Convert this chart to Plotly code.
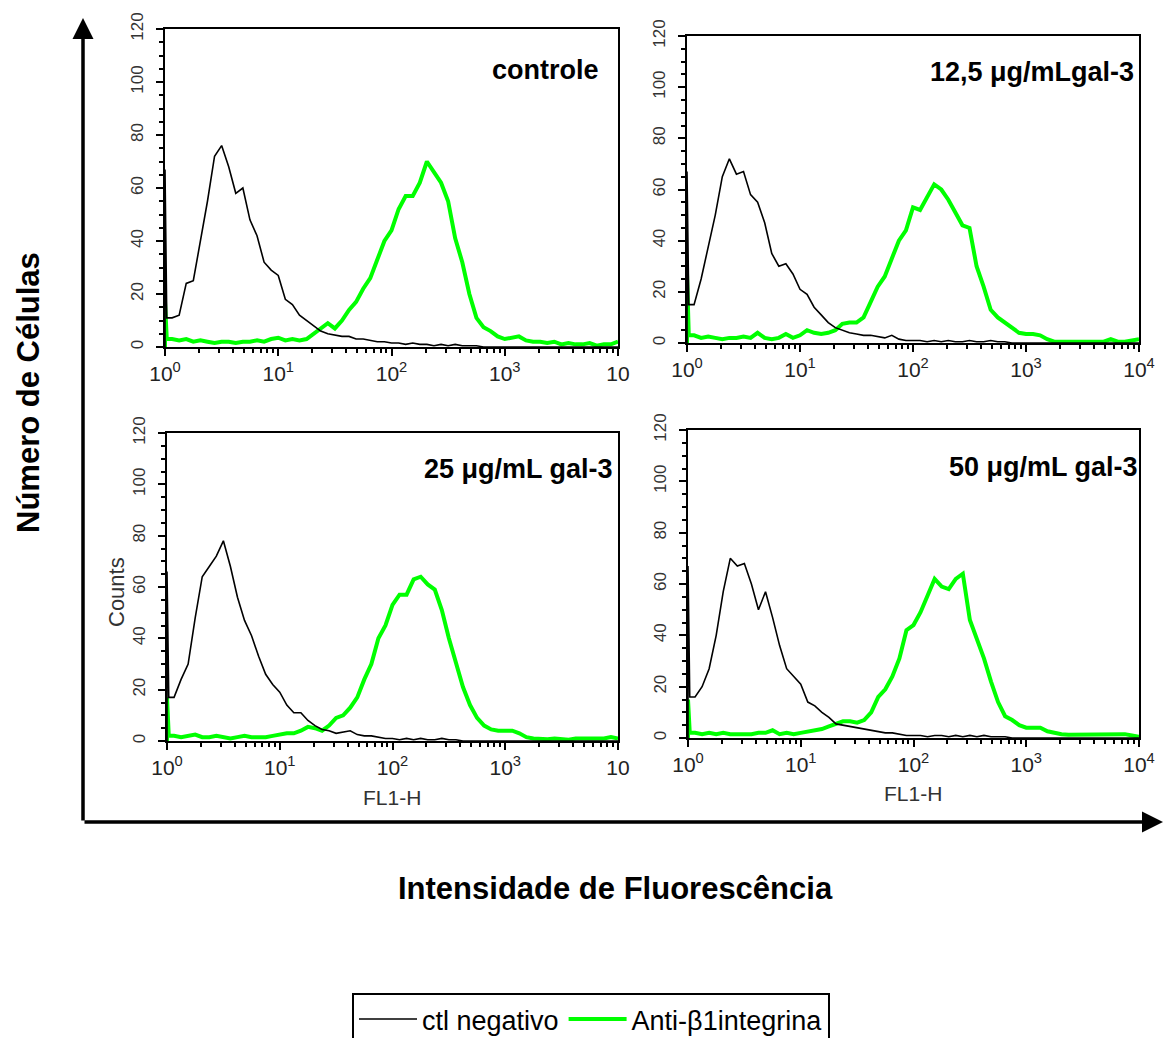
import plotly.graph_objects as go

W, H = 1164, 1038

# ---------------- data (counts) ----------------
# FL1-H channel scale: 16 channels per decade from 10^0 to 10^4 (65 positions)
channels_per_decade = 16
n_channels = 65
fl1_channels = [10 ** (i / channels_per_decade) for i in range(n_channels)]
first_channel_edge = 10 ** (1 / 64)   # width of the first (pile-up) channel

panel_titles = ["controle", "12,5 μg/mLgal-3", "25 μg/mL gal-3", "50 μg/mL gal-3"]
series_names = ["ctl negativo", "Anti-β1integrina"]

x_tick_values = [1, 10, 100, 1000, 10000]
x_tick_labels = ["10<sup>0</sup>", "10<sup>1</sup>", "10<sup>2</sup>", "10<sup>3</sup>", "10<sup>4</sup>"]
x_tick_labels_clipped = ["10<sup>0</sup>", "10<sup>1</sup>", "10<sup>2</sup>", "10<sup>3</sup>", "10"]
y_tick_values = [0, 20, 40, 60, 80, 100, 120]

ctl_controle = [67, 11, 12, 24, 25, 40, 55, 72, 76, 68, 58, 60, 48, 42, 32, 29, 27,
                18, 16, 12, 10, 8, 6, 5, 4.5, 4, 4, 3, 3, 2.5, 2, 2, 1.5, 1.5, 1, 1.5,
                1, 1, 0.5, 1, 0.5, 1, 0.5, 0.5, 0.5, 0,
                0, 0, 0, 0, 0, 0, 0, 0, 0, 0, 0, 0, 0, 0, 0, 0, 0, 0, 0]
anti_controle = [17, 3, 2.5, 3, 2, 2.5, 2, 1.5, 2, 2, 1.5, 2, 2, 2.5, 2, 3, 3.5, 2.5, 3, 2.5, 3,
                 5, 7, 9, 7, 10, 14, 17, 22, 26, 33, 40, 44, 52, 57, 57, 62, 70, 66, 62, 55,
                 41, 32, 20, 11, 7.5, 6, 4, 3, 3.5, 4, 2.5, 2, 2, 1.5, 2, 1, 1.5, 1, 1, 1.5,
                 0.5, 1, 1, 2]

ctl_125 = [67, 15, 25, 38, 50, 65, 72, 66, 67, 58, 55, 47, 35, 30, 31, 27, 21,
           19, 14, 11, 8, 6, 5, 4, 3.5, 3, 3, 2.5, 2, 3, 1.5, 1, 1, 1, 0.5, 1,
           0.5, 1, 0.5, 0.5, 1, 0.5, 0.5, 1, 0.5, 0.5,
           0, 0, 0, 0, 0, 0, 0, 0, 0, 0, 0, 0, 0, 0, 0, 0, 0, 0, 0]
anti_125 = [27, 3, 2, 2.5, 2, 1.5, 2, 2, 2.5, 2, 4, 2, 1.5, 2, 3.5, 2, 3, 5, 4, 3.5, 4,
            5, 7.5, 8, 8, 10, 16, 22, 26, 33, 40, 44, 53, 52, 57, 62, 60, 56, 51, 46, 45,
            30, 22, 13, 10, 8, 6, 4, 3.5, 3.5, 3, 1.5, 0.5, 0.5, 0.5, 0.5, 0.5, 0.5, 0.5,
            0.5, 1.5, 0.5, 0.5, 1, 1.5]

ctl_25 = [66, 17, 24, 30, 48, 64, 68, 72, 78, 68, 56, 47, 41, 33, 26, 22, 19,
          14, 11, 11, 8, 6, 4.5, 4, 3, 3.5, 4, 2.5, 2, 2, 1.5, 1, 1, 0.5, 1, 0.5,
          1, 0.5, 0.5, 1, 0.5, 0.5, 0,
          0, 0, 0, 0, 0, 0, 0, 0, 0, 0, 0, 0, 0, 0, 0, 0, 0, 0, 0, 0, 0, 0]
anti_25 = [17, 2, 1.5, 2, 2.5, 1.5, 1.5, 2, 1.5, 1, 1.5, 2, 1.5, 1.5, 1.5, 2, 2.5, 3, 3, 4, 5.5,
           5, 4, 6, 9, 10, 13, 17, 24, 30, 40, 45, 53, 57, 57, 63, 64, 61, 59, 51, 40,
           30, 21, 14, 9, 6, 4.5, 4, 4, 4, 3, 1.5, 1, 0.7, 0.7, 1, 0.7, 0.5, 1, 1, 0.7,
           0.7, 1, 1.5, 1]

ctl_50 = [67, 16, 20, 27, 40, 57, 70, 67, 68, 60, 50, 57, 47, 36, 27, 24, 21,
          14, 12.5, 10, 8, 5.5, 5, 4.5, 4, 3.3, 3, 2.5, 2, 2, 1.5, 1, 1, 1, 0.5, 1,
          1, 0.5, 1, 0.5, 1, 0.5, 1, 0.5, 0.5, 0.5,
          0, 0, 0, 0, 0, 0, 0, 0, 0, 0, 0, 0, 0, 0, 0, 0, 0, 0, 0]
anti_50 = [15, 2, 1.5, 2, 1.5, 2, 1.5, 1.5, 1.5, 1.5, 2, 2, 3, 1.5, 2, 1.5, 2, 2.5, 3, 3.5, 4.5,
           5.5, 6.5, 6.5, 6, 7, 10, 16, 19, 24, 31, 42, 44, 49, 56, 62, 59, 58, 62, 64, 46,
           39, 31, 22, 14, 8.5, 7, 5, 4, 4, 4, 2.6, 2, 1.5, 1.3, 1.3, 1.3, 1.3, 1.3, 1.3, 1.3,
           1.5, 1.5, 1, 0.5]

ctl_series = [ctl_controle, ctl_125, ctl_25, ctl_50]
anti_series = [anti_controle, anti_125, anti_25, anti_50]

# ---------------- layout configuration (pixels) ----------------
FONT = "Liberation Sans, Arial, sans-serif"
panel_boxes = [  # left, right, top, bottom
    (165, 618, 29, 347),
    (687, 1139, 36, 343),
    (167, 618, 433, 741),
    (688, 1139, 430, 738),
]
title_pos = [(601, 70), (1136, 72), (615, 469), (1140, 467)]


def hist_xy(counts):
    xs = [fl1_channels[0], fl1_channels[0], first_channel_edge] + fl1_channels[1:]
    ys = [0, counts[0], counts[1]] + counts[1:]
    return xs, ys


fig = go.Figure()
layout = dict(
    width=W, height=H,
    margin=dict(l=0, r=0, t=0, b=0, pad=0, autoexpand=False),
    paper_bgcolor="white", plot_bgcolor="white",
    font=dict(family=FONT, color="black"),
    showlegend=True,
)

minor_x = [m * 10 ** d for d in range(4) for m in range(2, 10)]

for k in range(4):
    sfx = "" if k == 0 else str(k + 1)
    l, r, t, b = panel_boxes[k]
    xa = "x" + sfx
    ya = "y" + sfx
    xs, ys_anti = hist_xy(anti_series[k])
    fig.add_trace(go.Scatter(
        x=xs, y=ys_anti, xaxis=xa, yaxis=ya, mode="lines",
        line=dict(color="#00ff00", width=4), name=series_names[1],
        legendrank=2, showlegend=(k == 0), cliponaxis=False, hoverinfo="skip"))
    xs, ys_ctl = hist_xy(ctl_series[k])
    fig.add_trace(go.Scatter(
        x=xs, y=ys_ctl, xaxis=xa, yaxis=ya, mode="lines",
        line=dict(color="black", width=1.6), name=series_names[0],
        legendrank=1, showlegend=(k == 0), cliponaxis=False, hoverinfo="skip"))

    layout["xaxis" + sfx] = dict(
        type="log", range=[0, 4], domain=[l / W, r / W], anchor=ya,
        showline=True, linecolor="black", linewidth=2, mirror=True,
        showgrid=False, zeroline=False, automargin=False,
        tickmode="array", tickvals=x_tick_values,
        ticktext=(x_tick_labels_clipped if k in (0, 2) else x_tick_labels),
        ticks="outside", ticklen=7, tickwidth=1.5, tickcolor="black",
        tickfont=dict(size=21, family=FONT, color="#222"),
        minor=dict(tickvals=minor_x, ticks="outside", ticklen=4, tickwidth=1.5,
                   tickcolor="black", showgrid=False),
        fixedrange=True,
    )
    layout["yaxis" + sfx] = dict(
        range=[0, 120], domain=[1 - b / H, 1 - t / H], anchor=xa,
        showline=True, linecolor="black", linewidth=2, mirror=True,
        showgrid=False, zeroline=False, automargin=False,
        tickmode="array", tickvals=y_tick_values, tickangle=-90,
        ticks="outside", ticklen=7, tickwidth=1.5, tickcolor="black",
        ticklabelstandoff=6,
        tickfont=dict(size=17, family=FONT, color="#333"),
        minor=dict(dtick=5, ticks="outside", ticklen=4, tickwidth=1.5,
                   tickcolor="black", showgrid=False),
        fixedrange=True,
    )

annotations = []
for k in range(4):
    tx, ty = title_pos[k]
    annotations.append(dict(
        text="<b>" + panel_titles[k] + "</b>", xref="paper", yref="paper",
        x=tx / W, y=1 - ty / H, xanchor="right", yanchor="middle", showarrow=False,
        font=dict(size=27, family=FONT, color="black")))

annotations += [
    dict(text="Counts", xref="paper", yref="paper", x=116 / W, y=1 - 592 / H,
         textangle=-90, showarrow=False, xanchor="center", yanchor="middle",
         font=dict(size=22, family=FONT, color="#333")),
    dict(text="FL1-H", xref="paper", yref="paper", x=392 / W, y=1 - 797 / H,
         showarrow=False, xanchor="center", yanchor="middle",
         font=dict(size=21, family=FONT, color="#333")),
    dict(text="FL1-H", xref="paper", yref="paper", x=913 / W, y=1 - 793 / H,
         showarrow=False, xanchor="center", yanchor="middle",
         font=dict(size=21, family=FONT, color="#333")),
    dict(text="<b>Número de Células</b>", xref="paper", yref="paper", x=28 / W, y=1 - 393 / H,
         textangle=-90, showarrow=False, xanchor="center", yanchor="middle",
         font=dict(size=31, family=FONT, color="black")),
    dict(text="<b>Intensidade de Fluorescência</b>", xref="paper", yref="paper",
         x=615 / W, y=1 - 888 / H, showarrow=False, xanchor="center", yanchor="middle",
         font=dict(size=31, family=FONT, color="black")),
    # big axis arrows
    dict(text="", xref="paper", yref="paper", x=83 / W, y=1 - 18 / H, ax=0, ay=804,
         showarrow=True, arrowhead=2, arrowsize=1.2, arrowwidth=3.5, arrowcolor="black",
         standoff=0, startstandoff=0),
    dict(text="", xref="paper", yref="paper", x=1163 / W, y=1 - 822 / H, ax=-1080, ay=0,
         showarrow=True, arrowhead=2, arrowsize=1.2, arrowwidth=3.5, arrowcolor="black",
         standoff=0, startstandoff=0),
]
layout["annotations"] = annotations

layout["legend"] = dict(
    orientation="h", x=352 / W, y=1 - 993 / H, xanchor="left", yanchor="top",
    bordercolor="black", borderwidth=2, bgcolor="white",
    font=dict(size=27, family=FONT, color="black"),
    traceorder="normal", itemwidth=58,
)

fig.update_layout(**layout)
fig.write_html("out.html")
